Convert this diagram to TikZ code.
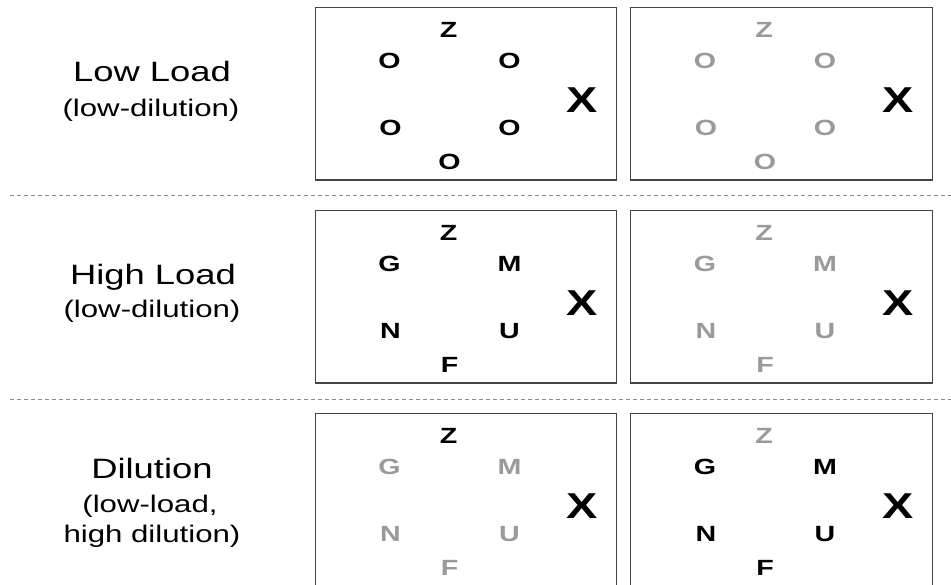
\documentclass[tikz,border=0pt]{standalone}
\usepackage{fontspec}
\setmainfont{Liberation Sans}
\newfontfamily\widesans[FakeStretch=1.3]{Liberation Sans}
\definecolor{faded}{HTML}{9A9A9A}
\definecolor{frame}{HTML}{444444}
\definecolor{rulegray}{HTML}{8A8A8A}
\tikzset{
  panel/.style={draw=frame,line width=1.2pt,inner sep=0pt,anchor=north west,
    minimum width=301.5pt,minimum height=172.5pt},
  sepline/.style={draw=rulegray,line width=1pt,dash pattern=on 4pt off 3pt},
  glyph/.style={font=\widesans\bfseries\fontsize{22}{22}\selectfont,inner sep=0pt,anchor=center},
  lit/.style={glyph,text=black},
  dim/.style={glyph,text=faded},
  bigx/.style={font=\widesans\bfseries\fontsize{36}{36}\selectfont,inner sep=0pt,anchor=center},
  rowtitle/.style={font=\widesans\fontsize{28}{28}\selectfont,inner sep=0pt,anchor=base},
  rownote/.style={font=\widesans\fontsize{24}{24}\selectfont,inner sep=0pt,anchor=base},
  % one framed panel: #1 style of Z, #2 style of the ring letters, #3..#7 ring letters
  pics/tile/.style n args={7}{code={
    \node[panel] (-box) at (0,0) {};
    \node[#1] (-z)  at (134,23)  {Z};
    \node[#2] (-tl) at (75,54)   {#3};
    \node[#2] (-tr) at (195,54)  {#4};
    \node[#2] (-bl) at (76,121)  {#5};
    \node[#2] (-br) at (195,121) {#6};
    \node[#2] (-b)  at (135,155) {#7};
    \node[bigx] (-x) at (268,93) {X};
  }}
}
\begin{document}
\begin{tikzpicture}[x=1pt,y=-1pt]
  \useasboundingbox (0,0) rectangle (951,585);
  \clip (0,0) rectangle (951,585);

  % row labels
  \node[rowtitle] (t1) at (152,82)  {Low Load};
  \node[rownote]  (n1) at (151,117) {(low-dilution)};
  \node[rowtitle] (t2) at (153,285) {High Load};
  \node[rownote]  (n2) at (152,318) {(low-dilution)};
  \node[rowtitle] (t3) at (152,478) {Dilution};
  \node[rownote]  (n3) at (150,512) {(low-load,};
  \node[rownote]  (n4) at (152,542) {high dilution)};

  % separators between rows
  \coordinate (s1a) at (10,196);  \coordinate (s1b) at (951,196);
  \coordinate (s2a) at (10,400);  \coordinate (s2b) at (951,400);
  \draw[sepline] (s1a) -- (s1b);
  \draw[sepline] (s2a) -- (s2b);

  % panels
  \pic (p11) at (314.5,7)   {tile={lit}{lit}{O}{O}{O}{O}{O}};
  \pic (p12) at (630,7)     {tile={dim}{dim}{O}{O}{O}{O}{O}};
  \pic (p21) at (314.5,210) {tile={lit}{lit}{G}{M}{N}{U}{F}};
  \pic (p22) at (630,210)   {tile={dim}{dim}{G}{M}{N}{U}{F}};
  \pic (p31) at (314.5,413) {tile={lit}{dim}{G}{M}{N}{U}{F}};
  \pic (p32) at (630,413)   {tile={dim}{lit}{G}{M}{N}{U}{F}};
\end{tikzpicture}
\end{document}
